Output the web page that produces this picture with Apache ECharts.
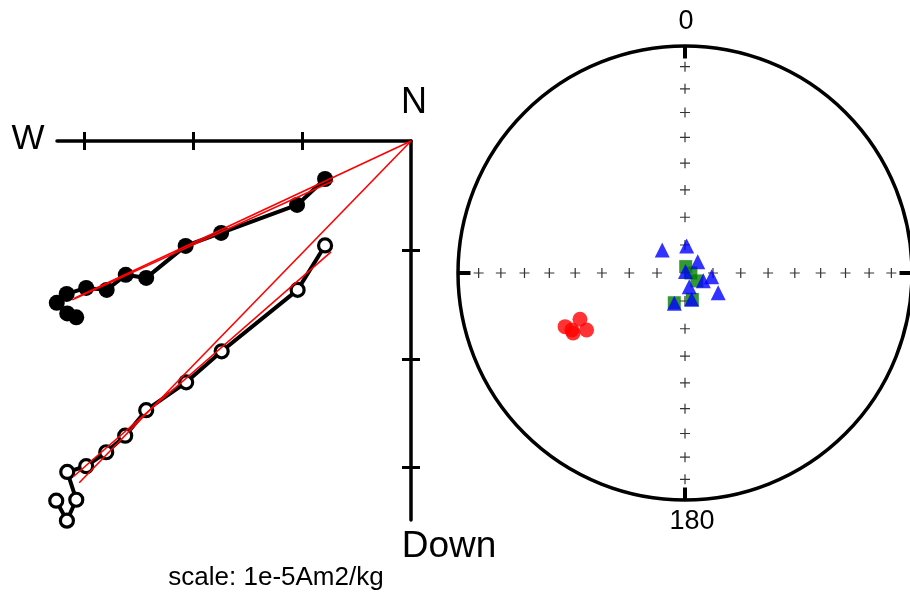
<!DOCTYPE html>
<html><head><meta charset="utf-8">
<script src="https://cdn.jsdelivr.net/npm/echarts@6/dist/echarts.min.js"></script>
<style>html,body{margin:0;padding:0;background:#fff}#c{width:910px;height:597px}</style>
</head><body><div id="c"></div>
<script>
// ---- Zijderveld data (units of 1e-5 Am2/kg) ----
// horizontal projection (filled): West component (negative = W), N-S component (down the page)
const horizW = [-0.789,-1.046,-1.743,-2.069,-2.431,-2.619,-2.794,-2.982,-3.161,-3.252,-3.156,-3.073];
const horizN = [0.349,0.587,0.844,0.963,1.257,1.229,1.367,1.349,1.404,1.486,1.583,1.619];
// vertical projection (open): West component, Down component
const vertW = [-0.789,-1.041,-1.738,-2.064,-2.431,-2.624,-2.798,-2.982,-3.156,-3.073,-3.159,-3.257];
const vertD = [0.959,1.367,1.931,2.216,2.472,2.706,2.858,2.986,3.039,3.294,3.486,3.303];
// PCA fit lines [x0,y0,x1,y1]
const fitHorizAnchored = [0,0,-3.09,1.443];
const fitHorizFree = [-0.716,0.367,-3.11,1.459];
const fitVertAnchored = [0,0,-3.046,3.138];
const fitVertFree = [-0.734,1.018,-3.101,3.083];
const zTicks = [1,2,3];
const xRange = [-3.25,0];
const yRange = [0,3.48];

// ---- Equal-area stereonet data (declination, inclination in degrees) ----
const redDec = [243.3,246.2,239.9,245.9,241.8];
const redInc = [43.5,48.1,48.5,41.7,43.4];
const blueDec = [315.4,3.6,48.3,17,112.8,97.9,162.6,120.6,165.7,199.4];
const blueInc = [78.4,80.3,83.9,89.4,82.9,80.4,84.9,76.2,80.3,78.5];
const greenDec = [6.4,90,123.6,199.8,164.5];
const greenInc = [87.7,87.9,84.9,78.7,80.2];
const gridIncs = [10,20,30,40,50,60,70,80];
const gridDirs = [0,90,180,270];

const eqArea = inc => Math.SQRT2*Math.sin((90-Math.abs(inc))/2*Math.PI/180);
const pol = (d,i) => [eqArea(i), d];

const FONT = 'Liberation Sans';
const plusPath = 'path://M4.4,0H5.6V4.4H10V5.6H5.6V10H4.4V5.6H0V4.4H4.4Z';

const zip = (a,b) => a.map((v,k)=>[v,b[k]]);
const seg = s => [[s[0],s[1]],[s[2],s[3]]];

const plusData = [[0,0]];
gridDirs.forEach(d=>gridIncs.forEach(i=>plusData.push(pol(d,i))));

const series = [];
function redLine(s){
  series.push({type:'line',xAxisIndex:0,yAxisIndex:0,data:seg(s),symbol:'none',clip:false,
    lineStyle:{color:'#ff0000',width:1.6},z:5,silent:true});
}
redLine(fitHorizAnchored); redLine(fitHorizFree); redLine(fitVertAnchored); redLine(fitVertFree);
series.push({type:'line',xAxisIndex:0,yAxisIndex:0,data:zip(horizW,horizN),clip:false,
  symbol:'circle',symbolSize:16,itemStyle:{color:'#000'},lineStyle:{color:'#000',width:4},z:3});
series.push({type:'line',xAxisIndex:0,yAxisIndex:0,data:zip(vertW,vertD),clip:false,
  symbol:'circle',symbolSize:13,itemStyle:{color:'#fff',borderColor:'#000',borderWidth:3.2},
  lineStyle:{color:'#000',width:4},z:3});

// stereonet
gridDirs.forEach(d=>{
  series.push({type:'line',coordinateSystem:'polar',polarIndex:0,data:[[0.945,d],[1,d]],symbol:'none',
    lineStyle:{color:'#000',width:4},z:4,silent:true});
});
series.push({type:'scatter',coordinateSystem:'polar',data:plusData,symbol:plusPath,symbolSize:10,
  itemStyle:{color:'#000'},z:2,silent:true});
series.push({type:'scatter',coordinateSystem:'polar',data:redDec.map((d,k)=>pol(d,redInc[k])),
  symbol:'circle',symbolSize:15,itemStyle:{color:'#ff0000'},z:3});
series.push({type:'scatter',coordinateSystem:'polar',data:greenDec.map((d,k)=>pol(d,greenInc[k])),
  symbol:'rect',symbolSize:13,itemStyle:{color:'#008000'},z:3});
series.push({type:'scatter',coordinateSystem:'polar',data:blueDec.map((d,k)=>pol(d,blueInc[k])),
  symbol:'triangle',symbolSize:15,itemStyle:{color:'#0000ff'},z:4});

const tickAxisX = (inside,line) => ({type:'value',gridIndex:0,min:xRange[0],max:xRange[1],position:'top',
  axisLine:{show:line,onZero:false,lineStyle:{color:'#000',width:3.5}},
  axisTick:{show:true,inside:inside,length:9,customValues:zTicks.map(v=>-v),lineStyle:{color:'#000',width:3}},
  axisLabel:{show:false},splitLine:{show:false}});
const tickAxisY = (inside,line) => ({type:'value',gridIndex:0,min:yRange[0],max:yRange[1],inverse:true,position:'right',
  axisLine:{show:line,onZero:false,lineStyle:{color:'#000',width:3.5}},
  axisTick:{show:true,inside:inside,length:9,customValues:zTicks,lineStyle:{color:'#000',width:3}},
  axisLabel:{show:false},splitLine:{show:false}});

const option = {
  animation:false,
  backgroundColor:'#fff',
  grid:[{left:57,top:141,width:354,height:379}],
  xAxis:[tickAxisX(false,true),tickAxisX(true,false)],
  yAxis:[tickAxisY(false,true),tickAxisY(true,false)],
  polar:[{center:[685,273],radius:227}],
  angleAxis:[{polarIndex:0,type:'value',min:0,max:360,startAngle:90,clockwise:true,
    axisLine:{show:true,lineStyle:{color:'#000',width:3.5}},axisTick:{show:false},axisLabel:{show:false},
    splitLine:{show:false}}],
  radiusAxis:[{polarIndex:0,type:'value',min:0,max:1,axisLine:{show:false},axisTick:{show:false},
    axisLabel:{show:false},splitLine:{show:false}}],
  graphic:[
    {type:'text',x:28,y:139,style:{text:'W',font:'35px "'+FONT+'"',fill:'#000',align:'center',verticalAlign:'middle'}},
    {type:'text',x:414,y:103,style:{text:'N',font:'36px "'+FONT+'"',fill:'#000',align:'center',verticalAlign:'middle'}},
    {type:'text',x:449,y:547,style:{text:'Down',font:'37px "'+FONT+'"',fill:'#000',align:'center',verticalAlign:'middle'}},
    {type:'text',x:276,y:578,style:{text:'scale: 1e-5Am2/kg',font:'26px "'+FONT+'"',fill:'#000',align:'center',verticalAlign:'middle'}},
    {type:'text',x:686,y:22,style:{text:'0',font:'27px "'+FONT+'"',fill:'#000',align:'center',verticalAlign:'middle'}},
    {type:'text',x:692,y:522,style:{text:'180',font:'27px "'+FONT+'"',fill:'#000',align:'center',verticalAlign:'middle'}}
  ],
  series:series
};
const chart = echarts.init(document.getElementById('c'),null,{renderer:'canvas'});
chart.setOption(option);
</script></body></html>
